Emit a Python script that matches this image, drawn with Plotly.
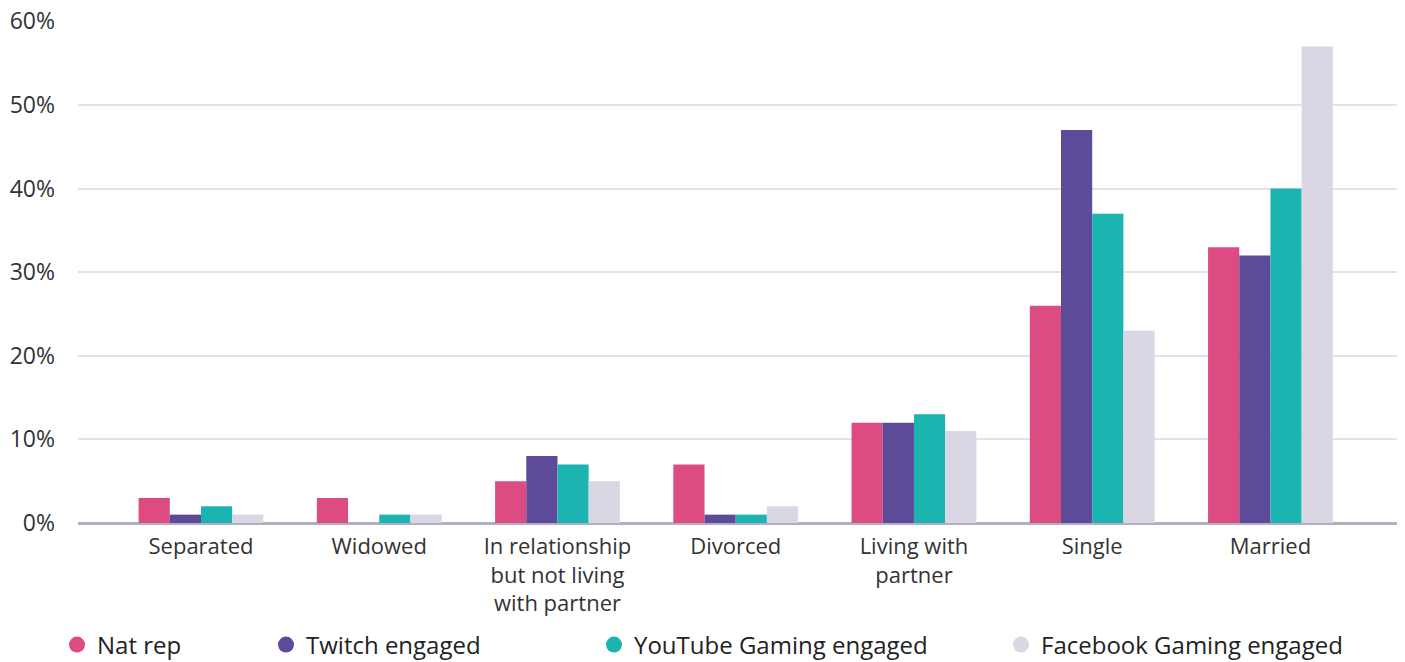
import plotly.graph_objects as go

categories = ["Separated", "Widowed", "In relationship<br>but not living<br>with partner",
              "Divorced", "Living with<br>partner", "Single", "Married"]
nat_rep = [3, 3, 5, 7, 12, 26, 33]
twitch = [1, 0, 8, 1, 12, 47, 32]
youtube = [2, 1, 7, 1, 13, 37, 40]
facebook = [1, 1, 5, 2, 11, 23, 57]
y_ticks = [0, 10, 20, 30, 40, 50, 60]

series_names = ["Nat rep", "Twitch engaged", "YouTube Gaming engaged", "Facebook Gaming engaged"]
series_values = [nat_rep, twitch, youtube, facebook]
colors = ["#dc4b81", "#5d4a98", "#1bb4b1", "#dad6e4"]

W, H = 1405, 662
legend_x = [57, 266, 594, 1001]  # legend entry positions (px in figure)

FONT = "'Open Sans', Lato, sans-serif"

fig = go.Figure()
for name, vals, col in zip(series_names, series_values, colors):
    fig.add_trace(go.Bar(x=categories, y=vals, name=name, marker_color=col,
                         marker_line_width=0, showlegend=False,
                         hovertemplate="%{y}%<extra>" + name + "</extra>"))

for i, (name, col) in enumerate(zip(series_names, colors)):
    lg = "legend" if i == 0 else f"legend{i+1}"
    fig.add_trace(go.Scatter(x=[None], y=[None], mode="markers", name=name,
                             marker=dict(color=col, size=20, symbol="circle"),
                             legend=lg, showlegend=True))

legend_common = dict(orientation="h", xref="container", yref="container",
                     yanchor="middle", y=1 - 645 / H, xanchor="left",
                     font=dict(family=FONT, size=24, color="#222222"),
                     bgcolor="rgba(0,0,0,0)", itemwidth=30, tracegroupgap=0)

layout_legends = {}
for i, lx in enumerate(legend_x):
    key = "legend" if i == 0 else f"legend{i+1}"
    layout_legends[key] = dict(legend_common, x=lx / W)

fig.update_layout(
    width=W, height=H,
    margin=dict(l=78, r=8, t=21, b=139, autoexpand=False),
    paper_bgcolor="white", plot_bgcolor="white",
    barmode="group", bargap=0.30, bargroupgap=0,
    font=dict(family=FONT, color="#333333"),
    xaxis=dict(type="category", range=[-0.69, 6.71], automargin=False,
               tickfont=dict(family=FONT, size=22, color="#333333"),
               showgrid=False, showline=False, ticks="",
               ticklabelstandoff=8),
    yaxis=dict(range=[0, 60.05], tickvals=y_ticks, automargin=False,
               ticktext=[f"{v}%" for v in y_ticks],
               tickfont=dict(family=FONT, size=23, color="#333333"),
               showgrid=True, gridcolor="#e4e1ec", gridwidth=1.5,
               zeroline=True, zerolinecolor="#b3aec3", zerolinewidth=2.5,
               showline=False, ticks="", ticklabelstandoff=22),
    **layout_legends,
)

fig.write_html("out.html", config={"displayModeBar": False},
               post_script="document.body.style.margin='0';document.body.style.overflow='hidden';")
